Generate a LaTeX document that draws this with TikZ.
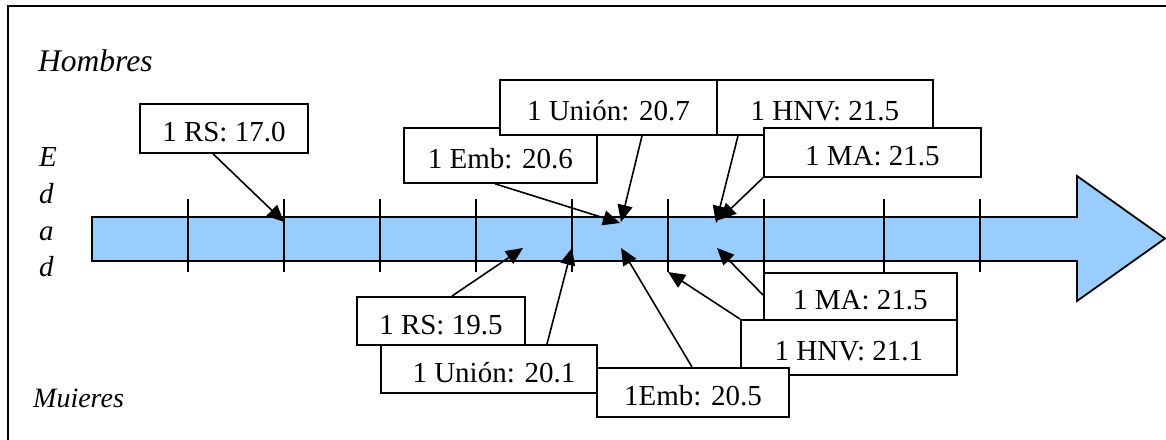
\documentclass[tikz,border=0pt]{standalone}
\usepackage{fontspec}
\setmainfont{Liberation Serif}
\usetikzlibrary{arrows.meta}
\definecolor{barblue}{HTML}{99CCFF}
\tikzset{
  txt/.style={font=\fontsize{29}{34}\selectfont},
  box/.style={txt, draw, fill=white, line width=1.8pt, inner sep=0pt,
    anchor=north west, text height=27pt, text depth=0pt},
  ptr/.style={line width=1.6pt, -{Triangle[length=17pt,width=15pt]}},
  tickmark/.style={line width=1.8pt},
  side/.style={font=\fontsize{29}{34}\selectfont\itshape, inner sep=0pt, anchor=base west},
}
\begin{document}
\begin{tikzpicture}[x=1pt, y=-1pt]
\useasboundingbox (0,0) rectangle (1166,439);

% frame
\draw[line width=2.4pt] (8,445) -- (8,6) -- (1170,6);

% side labels
\node[side, font=\fontsize{31.5}{36}\selectfont\itshape] (hom) at (38,71) {Hombres};
\node[side] (e1) at (39,166.7) {E};
\node[side] (e2) at (39,203.3) {d};
\node[side] (e3) at (39,240) {a};
\node[side] (e4) at (39,276.7) {d};
\node[side, font=\fontsize{28}{34}\selectfont\itshape] (muj) at (33,407) {Muieres};

% age axis drawn as a block arrow
\draw[line width=1.8pt, fill=barblue, line join=miter]
  (92,217) -- (1077,217) -- (1077,176) -- (1165,238.5) -- (1077,301)
  -- (1077,261) -- (92,261) -- cycle;
\foreach \x in {188,284,380,476,572,668,764,884,980}
  \draw[tickmark] (\x,199) -- (\x,272);

% men
\node[box, minimum width=168pt, minimum height=49pt] (rs170) at (139,103) {1 RS: 17.0};
\node[box, minimum width=193pt, minimum height=55pt] (emb206) at (403,127) {1 Emb: 20.6};
\node[box, minimum width=217pt, minimum height=55pt] (uni207) at (499,79) {1 Unión: 20.7};
\node[box, minimum width=216pt, minimum height=55pt] (hnv215) at (716,79) {1 HNV: 21.5};
\node[box, minimum width=217pt, minimum height=49pt] (ma215a) at (763,127) {1 MA: 21.5};

% women
\node[box, minimum width=168pt, minimum height=48pt] (rs195) at (356,296) {1 RS: 19.5};
\node[box, minimum width=216pt, minimum height=48pt] (uni201) at (380,344) {\hspace*{10pt}1 Unión: 20.1};
\node[box, minimum width=216pt, minimum height=55pt] (hnv211) at (740,319) {1 HNV: 21.1};
\node[box, minimum width=193pt, minimum height=47pt] (ma215b) at (763,272) {1 MA: 21.5};
\node[box, minimum width=192pt, minimum height=49pt] (emb205) at (596,367) {1Emb: 20.5};

% arrow targets on the axis
\coordinate (t1) at (284,222);
\coordinate (t2) at (620,223);
\coordinate (t3) at (621,222);
\coordinate (t4) at (716,223);
\coordinate (t5) at (719,220);
\coordinate (b1) at (523,248);
\coordinate (b2) at (572,248);
\coordinate (b3) at (621,248);
\coordinate (b4) at (668,272);
\coordinate (b5) at (717,248);

\draw[ptr] ([xshift=74pt]rs170.south west) -- (t1);
\draw[ptr] ([xshift=92pt]emb206.south west) -- (t2);
\draw[ptr] ([xshift=143pt]uni207.south west) -- (t3);
\draw[ptr] ([xshift=22pt]hnv215.south west) -- (t4);
\draw[ptr] (ma215a.south west) -- (t5);

\draw[ptr] ([xshift=96pt]rs195.north west) -- (b1);
\draw[ptr] ([xshift=167pt]uni201.north west) -- (b2);
\draw[ptr] ([xshift=96pt]emb205.north west) -- (b3);
\draw[ptr] (hnv211.north west) -- (b4);
\draw[ptr] ([yshift=-23pt]ma215b.north west) -- (b5);
\end{tikzpicture}
\end{document}
